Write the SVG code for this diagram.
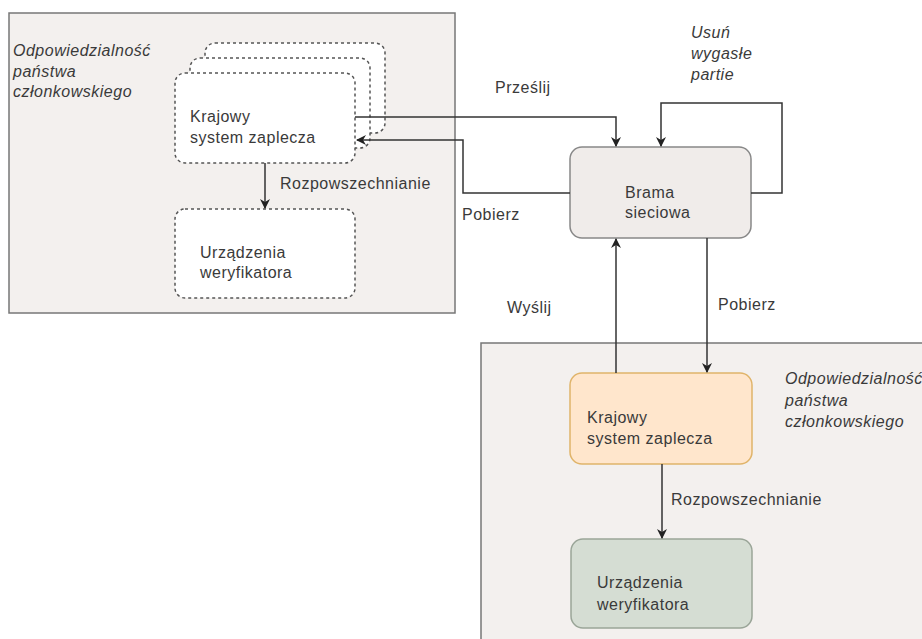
<svg xmlns="http://www.w3.org/2000/svg" width="922" height="639" viewBox="0 0 922 639">
<style>
.t{font-family:"Liberation Sans",Arial,sans-serif;font-size:16px;fill:#3a3a3a;letter-spacing:0.5px}
.i{font-style:italic}
.cont{fill:#f3f0ee;stroke:#777;stroke-width:1.5}
.dash{fill:#fff;stroke:#555;stroke-width:1.5;stroke-dasharray:3 3}
.ln{fill:none;stroke:#333;stroke-width:1.5}
</style>
<defs>
<marker id="a" viewBox="0 0 10 10" refX="9" refY="5" markerWidth="10" markerHeight="10" markerUnits="userSpaceOnUse" orient="auto">
<path d="M0,0 L10,5 L0,10 L3,5 z" fill="#222"/>
</marker>
</defs>
<rect width="922" height="639" fill="#fff"/>
<g id="container-left">
<rect class="cont" x="9" y="13" width="446" height="300"/>
<text class="t i" x="13" y="56">Odpowiedzialność</text>
<text class="t i" x="13" y="77">państwa</text>
<text class="t i" x="13" y="97">członkowskiego</text>
</g>
<g id="container-right">
<rect class="cont" x="481" y="343" width="450" height="310"/>
<text class="t i" x="785" y="384">Odpowiedzialność</text>
<text class="t i" x="785" y="406">państwa</text>
<text class="t i" x="785" y="427">członkowskiego</text>
</g>
<g id="backend-left">
<rect class="dash" x="205" y="43" width="180" height="90" rx="10"/>
<rect class="dash" x="190" y="58" width="180" height="90" rx="10"/>
<rect class="dash" x="175" y="73" width="180" height="90" rx="10"/>
<text class="t" x="190" y="122">Krajowy</text>
<text class="t" x="190" y="143">system zaplecza</text>
</g>
<g id="devices-left">
<rect class="dash" x="175" y="209" width="180" height="89" rx="10"/>
<text class="t" x="200" y="258">Urządzenia</text>
<text class="t" x="200" y="278">weryfikatora</text>
</g>
<g id="gateway">
<rect x="570" y="147" width="181" height="91" rx="12" fill="#f0ecea" stroke="#888" stroke-width="1.5"/>
<text class="t" x="625" y="198" fill="#555">Brama</text>
<text class="t" x="625" y="218">sieciowa</text>
</g>
<g id="backend-right">
<rect x="570" y="373" width="182" height="91" rx="12" fill="#ffe6cc" stroke="#e0b46a" stroke-width="1.5"/>
<text class="t" x="587" y="423">Krajowy</text>
<text class="t" x="587" y="444">system zaplecza</text>
</g>
<g id="devices-right">
<rect x="571" y="539" width="181" height="89" rx="12" fill="#d5ddd3" stroke="#9aa598" stroke-width="1.5"/>
<text class="t" x="597" y="588">Urządzenia</text>
<text class="t" x="597" y="610">weryfikatora</text>
</g>
<g id="connectors">
<path class="ln" d="M265,163 L265,208" marker-end="url(#a)"/>
<path class="ln" d="M355,117 L616,117 L616,146" marker-end="url(#a)"/>
<path class="ln" d="M570,193 L463,193 L463,140 L357,140" marker-end="url(#a)"/>
<path class="ln" d="M751,193 L782,193 L782,103 L661,103 L661,146" marker-end="url(#a)"/>
<path class="ln" d="M616,373 L616,239" marker-end="url(#a)"/>
<path class="ln" d="M707,238 L707,372" marker-end="url(#a)"/>
<path class="ln" d="M662,464 L662,538" marker-end="url(#a)"/>
</g>
<g id="labels">
<text class="t" x="280" y="189">Rozpowszechnianie</text>
<text class="t" x="495" y="93">Prześlij</text>
<text class="t" x="462" y="220">Pobierz</text>
<text class="t i" x="691" y="38">Usuń</text>
<text class="t i" x="691" y="59">wygasłe</text>
<text class="t i" x="691" y="80">partie</text>
<text class="t" x="507" y="313">Wyślij</text>
<text class="t" x="718" y="310">Pobierz</text>
<text class="t" x="671" y="505">Rozpowszechnianie</text>
</g>
</svg>
